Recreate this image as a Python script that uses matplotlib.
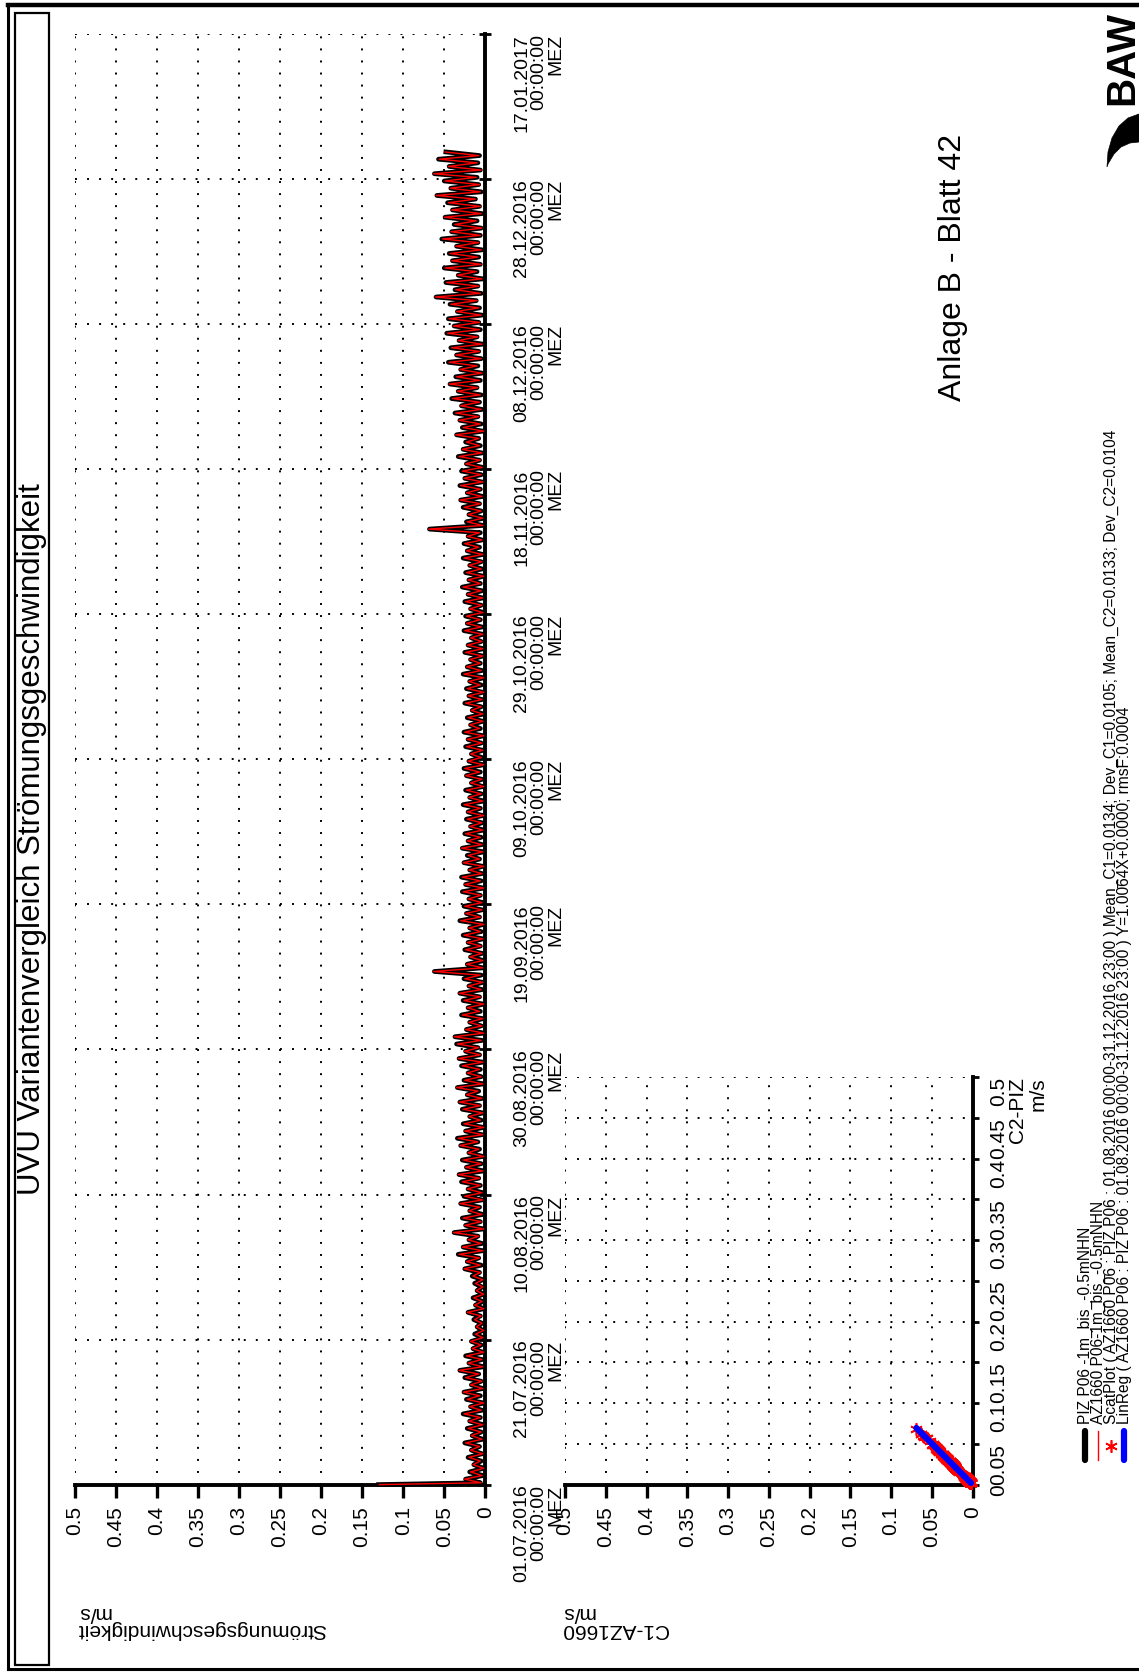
import numpy as np
import matplotlib
matplotlib.use('Agg')
import matplotlib.pyplot as plt
from matplotlib.patches import Rectangle, Polygon

plt.rcParams['font.family'] = ['Liberation Sans', 'DejaVu Sans']

# ── Data ──────────────────────────────────────────────────────
# velocity axis (m/s)
vel_ticks = [0.0, 0.05, 0.1, 0.15, 0.2, 0.25, 0.3, 0.35, 0.4, 0.45, 0.5]
vel_labels = ['0', '0.05', '0.1', '0.15', '0.2', '0.25', '0.3', '0.35', '0.4', '0.45', '0.5']

# time axis: days since 01.07.2016
time_ticks = [0, 20, 40, 60, 80, 100, 120, 140, 160, 180, 200]
time_dates = ['01.07.2016', '21.07.2016', '10.08.2016', '30.08.2016', '19.09.2016',
              '09.10.2016', '29.10.2016', '18.11.2016', '08.12.2016', '28.12.2016',
              '17.01.2017']

# first hourly value 01.07.2016 00:00 (mm/s)
piz_first = 130
az_first = 129

# PIZ P06: daily low / high (mm/s), 01.07.2016 ... 31.12.2016
piz_hi = [24, 19, 14, 21, 17, 25, 16, 22, 19, 27,
          18, 23, 26, 17, 25, 31, 20, 24, 15, 17,
          13, 10, 14, 21, 12, 15, 10, 13, 16, 25,
          22, 33, 27, 20, 38, 24, 28, 19, 30, 26,
          21, 29, 32, 23, 28, 20, 30, 34, 24, 27,
          19, 28, 31, 22, 34, 26, 21, 29, 32, 24,
          35, 37, 23, 19, 29, 21, 27, 31, 20, 26,
          62, 22, 18, 25, 21, 27, 19, 31, 23, 26,
          20, 28, 24, 29, 19, 26, 22, 28, 21, 25,
          18, 23, 21, 27, 19, 24, 17, 23, 26, 20,
          17, 24, 21, 26, 18, 22, 16, 25, 20, 23,
          19, 27, 22, 18, 25, 21, 17, 26, 22, 24,
          18, 25, 21, 28, 20, 24, 19, 27, 22, 26,
          21, 68, 23, 20, 27, 30, 22, 31, 25, 29,
          23, 33, 27, 24, 35, 28, 31, 37, 29, 41,
          33, 43, 36, 30, 45, 35, 42, 32, 47, 38,
          45, 34, 43, 60, 37, 48, 33, 50, 40, 44,
          35, 53, 41, 38, 49, 40, 46, 59, 42, 50,
          62, 44, 57, 48]
piz_lo = [6, 3, 2, 5, 4, 7, 3, 5, 2, 6,
          4, 2, 6, 3, 5, 8, 2, 4, 3, 5,
          2, 3, 4, 6, 2, 3, 2, 4, 3, 7,
          5, 8, 3, 4, 9, 2, 6, 3, 7, 4,
          3, 6, 8, 2, 5, 3, 7, 9, 4, 2,
          5, 3, 7, 4, 8, 2, 5, 6, 3, 7,
          9, 4, 2, 5, 3, 6, 2, 7, 4, 3,
          5, 3, 2, 4, 6, 3, 5, 2, 7, 4,
          3, 6, 2, 5, 4, 3, 7, 2, 4, 5,
          2, 4, 3, 6, 2, 5, 3, 4, 6, 2,
          4, 3, 5, 2, 6, 3, 2, 5, 4, 3,
          5, 2, 4, 6, 3, 2, 5, 3, 4, 6,
          2, 5, 3, 4, 6, 2, 4, 5, 3, 7,
          4, 6, 3, 2, 5, 7, 3, 6, 4, 5,
          3, 7, 4, 6, 8, 3, 5, 9, 4, 7,
          5, 10, 6, 4, 9, 5, 8, 3, 10, 6,
          8, 4, 7, 11, 5, 9, 3, 10, 6, 8,
          4, 9, 6, 5, 10, 4, 7, 12, 5, 8,
          10, 6, 9, 7]

# AZ1660 P06: daily low / high (mm/s)
az_hi = [25, 18, 15, 20, 18, 24, 17, 21, 20, 26,
         19, 22, 27, 18, 24, 32, 21, 23, 16, 18,
         12, 11, 13, 22, 13, 14, 11, 12, 15, 26,
         23, 32, 28, 21, 39, 25, 27, 20, 31, 25,
         22, 28, 33, 24, 27, 21, 31, 33, 25, 26,
         20, 27, 32, 23, 35, 25, 22, 28, 33, 25,
         34, 38, 24, 20, 28, 22, 26, 32, 21, 25,
         63, 23, 19, 24, 22, 26, 20, 30, 24, 25,
         21, 27, 25, 28, 20, 27, 21, 29, 22, 24,
         19, 22, 22, 26, 20, 23, 18, 24, 25, 21,
         18, 23, 22, 25, 19, 21, 17, 24, 21, 22,
         20, 26, 23, 19, 24, 22, 18, 25, 23, 23,
         19, 24, 22, 27, 21, 23, 20, 26, 23, 25,
         22, 69, 22, 21, 26, 31, 23, 30, 26, 28,
         24, 32, 28, 23, 36, 27, 32, 36, 30, 40,
         34, 44, 35, 31, 44, 36, 41, 33, 46, 39,
         44, 35, 42, 61, 36, 47, 34, 49, 41, 43,
         36, 52, 42, 37, 50, 41, 45, 60, 43, 49,
         63, 45, 56, 49]
az_lo = [5, 4, 2, 6, 3, 7, 4, 5, 3, 6,
         5, 2, 7, 3, 4, 8, 3, 4, 2, 5,
         3, 2, 4, 5, 2, 4, 2, 3, 3, 6,
         6, 7, 3, 5, 8, 2, 5, 4, 7, 3,
         4, 6, 7, 3, 5, 2, 8, 9, 3, 2,
         6, 3, 6, 4, 9, 3, 5, 7, 3, 6,
         8, 5, 2, 4, 3, 7, 2, 6, 5, 3,
         6, 3, 3, 4, 5, 3, 6, 2, 6, 4,
         4, 5, 2, 6, 4, 2, 7, 3, 4, 6,
         3, 4, 2, 6, 3, 5, 2, 4, 7, 2,
         5, 3, 4, 2, 7, 3, 3, 5, 4, 2,
         6, 2, 5, 6, 3, 3, 4, 3, 5, 6,
         3, 4, 3, 5, 6, 2, 5, 4, 3, 8,
         4, 7, 3, 3, 5, 6, 4, 6, 3, 5,
         4, 6, 4, 7, 8, 2, 6, 8, 5, 7,
         6, 9, 7, 4, 10, 5, 7, 4, 9, 7,
         7, 5, 8, 10, 6, 8, 4, 11, 5, 9,
         5, 8, 6, 4, 11, 5, 6, 12, 6, 7,
         11, 5, 10, 8]

# linear regression AZ1660 vs PIZ
reg_slope, reg_icpt = 1.0064, 0.0
scat_start_day = 31   # 01.08.2016

legend_texts = [
    'PIZ P06 -1m_bis_-0.5mNHN',
    'AZ1660 P06-1m_bis_-0.5mNHN',
    'ScatPlot ( AZ1660 P06 : PIZ P06 : 01.08.2016 00:00-31.12.2016 23:00 ) '
    'Mean_C1=0.0134; Dev_C1=0.0105; Mean_C2=0.0133; Dev_C2=0.0104',
    'LinReg ( AZ1660 P06 : PIZ P06 : 01.08.2016 00:00-31.12.2016 23:00 ) '
    'Y=1.0064X+0.0000; rmsF:0.0004',
]


def half_daily(first, lo, hi):
    d = np.arange(len(hi))
    t = np.concatenate([[0.0], np.column_stack([d + 0.25, d + 0.75]).ravel()])
    v = np.concatenate([[first], np.column_stack([lo, hi]).ravel()]) / 1000.0
    return t, v


t_piz, v_piz = half_daily(piz_first, piz_lo, piz_hi)
t_az, v_az = half_daily(az_first, az_lo, az_hi)

# ── Page ──────────────────────────────────────────────────────
W, H = 1139, 1673
fig = plt.figure(figsize=(W / 100, H / 100), dpi=100)


def box(x0, y0, x1, y1):
    """pixel box (top-left origin) -> figure fraction rect"""
    return [x0 / W, 1 - y1 / H, (x1 - x0) / W, (y1 - y0) / H]


bg = fig.add_axes([0, 0, 1, 1], zorder=-1)
bg.set_xlim(0, W)
bg.set_ylim(H, 0)
bg.axis('off')

# frame + title box
bg.plot([7.6, 7.6], [5, 1669], color='k', lw=2.2)
bg.plot([7.6, W], [5, 5], color='k', lw=3.2)
bg.plot([7.6, W], [1669, 1669], color='k', lw=2.2)
bg.add_patch(Rectangle((14.5, 13), 34.5, 1652, fill=False, ec='k', lw=1.6))
bg.text(31.7, 839, 'UVU Variantenvergleich Strömungsgeschwindigkeit',
        rotation=90, ha='center', va='center', fontsize=22.5)
bg.text(953, 267, 'Anlage B - Blatt 42', rotation=90, ha='center', va='center',
        fontsize=23)

# BAW logo
bg.text(1122, 58, 'BAW', rotation=90, ha='center', va='center', fontsize=29,
        fontweight='bold')
bg.add_patch(Polygon([(1107, 167), (1108, 152), (1112, 138), (1119, 126), (1128, 118),
                      (1139, 114), (1139, 142), (1130, 143), (1121, 147), (1114, 154),
                      (1108, 164)],
                     closed=True, fc='k', ec='k', lw=0.5))

# legend
leg_x = [1085, 1098, 1111, 1124]
bg.plot([leg_x[0]] * 2, [1431, 1460], color='k', lw=4.5, solid_capstyle='round')
bg.plot([leg_x[1]] * 2, [1431, 1460], color='red', lw=1.0)
bg.plot([leg_x[2]], [1446], ls='none', marker=(6, 2, 0), ms=9, mec='red', mew=1.2)
bg.plot([leg_x[3]] * 2, [1431, 1460], color='blue', lw=4.5, solid_capstyle='round')
for x, s in zip(leg_x, legend_texts):
    bg.text(x, 1424, s, rotation=90, ha='center', va='bottom', fontsize=11.2)

# axis titles (upside down)
bg.text(77, 1621, 'Strömungsgeschwindigkeit\nm/s', rotation=180, ha='left',
        va='center', fontsize=15, multialignment='right', linespacing=0.85)
bg.text(561, 1621, 'C1-AZ1660\nm/s', rotation=180, ha='left', va='center',
        fontsize=15, multialignment='right', linespacing=0.85)
bg.text(1008, 1077, 'C2-PIZ\nm/s', rotation=90, ha='left', va='top',
        fontsize=15, multialignment='right', linespacing=1.1)

grid_kw = dict(color='k', linestyle=(0, (1, 5.2)), linewidth=1.4)


def style_axes(a):
    a.spines[['left', 'top']].set_visible(False)
    a.spines['bottom'].set_linewidth(2.8)
    a.spines['right'].set_linewidth(2.8)
    a.set_xlim(0.5, 0)
    a.set_xticks(vel_ticks)
    a.set_xticklabels(vel_labels)
    a.tick_params(axis='x', direction='out', length=9.5, width=2.4, labelsize=15,
                  pad=6, labelrotation=90)
    for lab in a.get_xticklabels():
        lab.set_va('top')
    a.yaxis.set_ticks_position('right')
    a.grid(True, **grid_kw)
    a.set_axisbelow(True)
    a.set_facecolor('none')


# ── Time series ───────────────────────────────────────────────
ax = fig.add_axes(box(74.7, 34.1, 485.3, 1484.6))
style_axes(ax)
ax.plot(v_piz, t_piz, color='k', lw=3.4, solid_joinstyle='round', zorder=3,
        clip_on=False)
ax.plot(v_az, t_az, color='red', lw=1.0, zorder=4, clip_on=False)
ax.set_ylim(0, 200)
ax.set_yticks(time_ticks)
ax.set_yticklabels([f'{d}\n00:00:00\nMEZ' for d in time_dates])
ax.tick_params(axis='y', direction='inout', length=8, width=2.0, labelsize=14,
               pad=16, labelrotation=90)
for lab in ax.get_yticklabels():
    lab.set_va('top')
    lab.set_ha('left')
    lab.set_multialignment('right')
    lab.set_linespacing(1.02)

# ── Scatter ───────────────────────────────────────────────────
axs = fig.add_axes(box(565, 1077, 972.6, 1484.6))
style_axes(axs)
i0 = 1 + 2 * scat_start_day
c1 = v_az[i0:]
c2 = v_piz[i0:]
axs.plot(c1, c2, ls='none', marker=(6, 2, 0), ms=9, mec='red', mew=1.2, zorder=3,
         clip_on=False)
xr = np.array([c1.min(), c1.max()])
axs.plot(xr, reg_slope * xr + reg_icpt, color='blue', lw=4.5, zorder=4,
         solid_capstyle='round', clip_on=False)
axs.set_ylim(0, 0.5)
axs.set_yticks(vel_ticks)
axs.set_yticklabels(vel_labels)
axs.tick_params(axis='y', direction='out', length=4, width=2.0, labelsize=15,
                pad=8, labelrotation=90)
for lab in axs.get_yticklabels():
    lab.set_va('top')
    lab.set_ha('left')

fig.savefig('out.png', dpi=100, facecolor='white')
